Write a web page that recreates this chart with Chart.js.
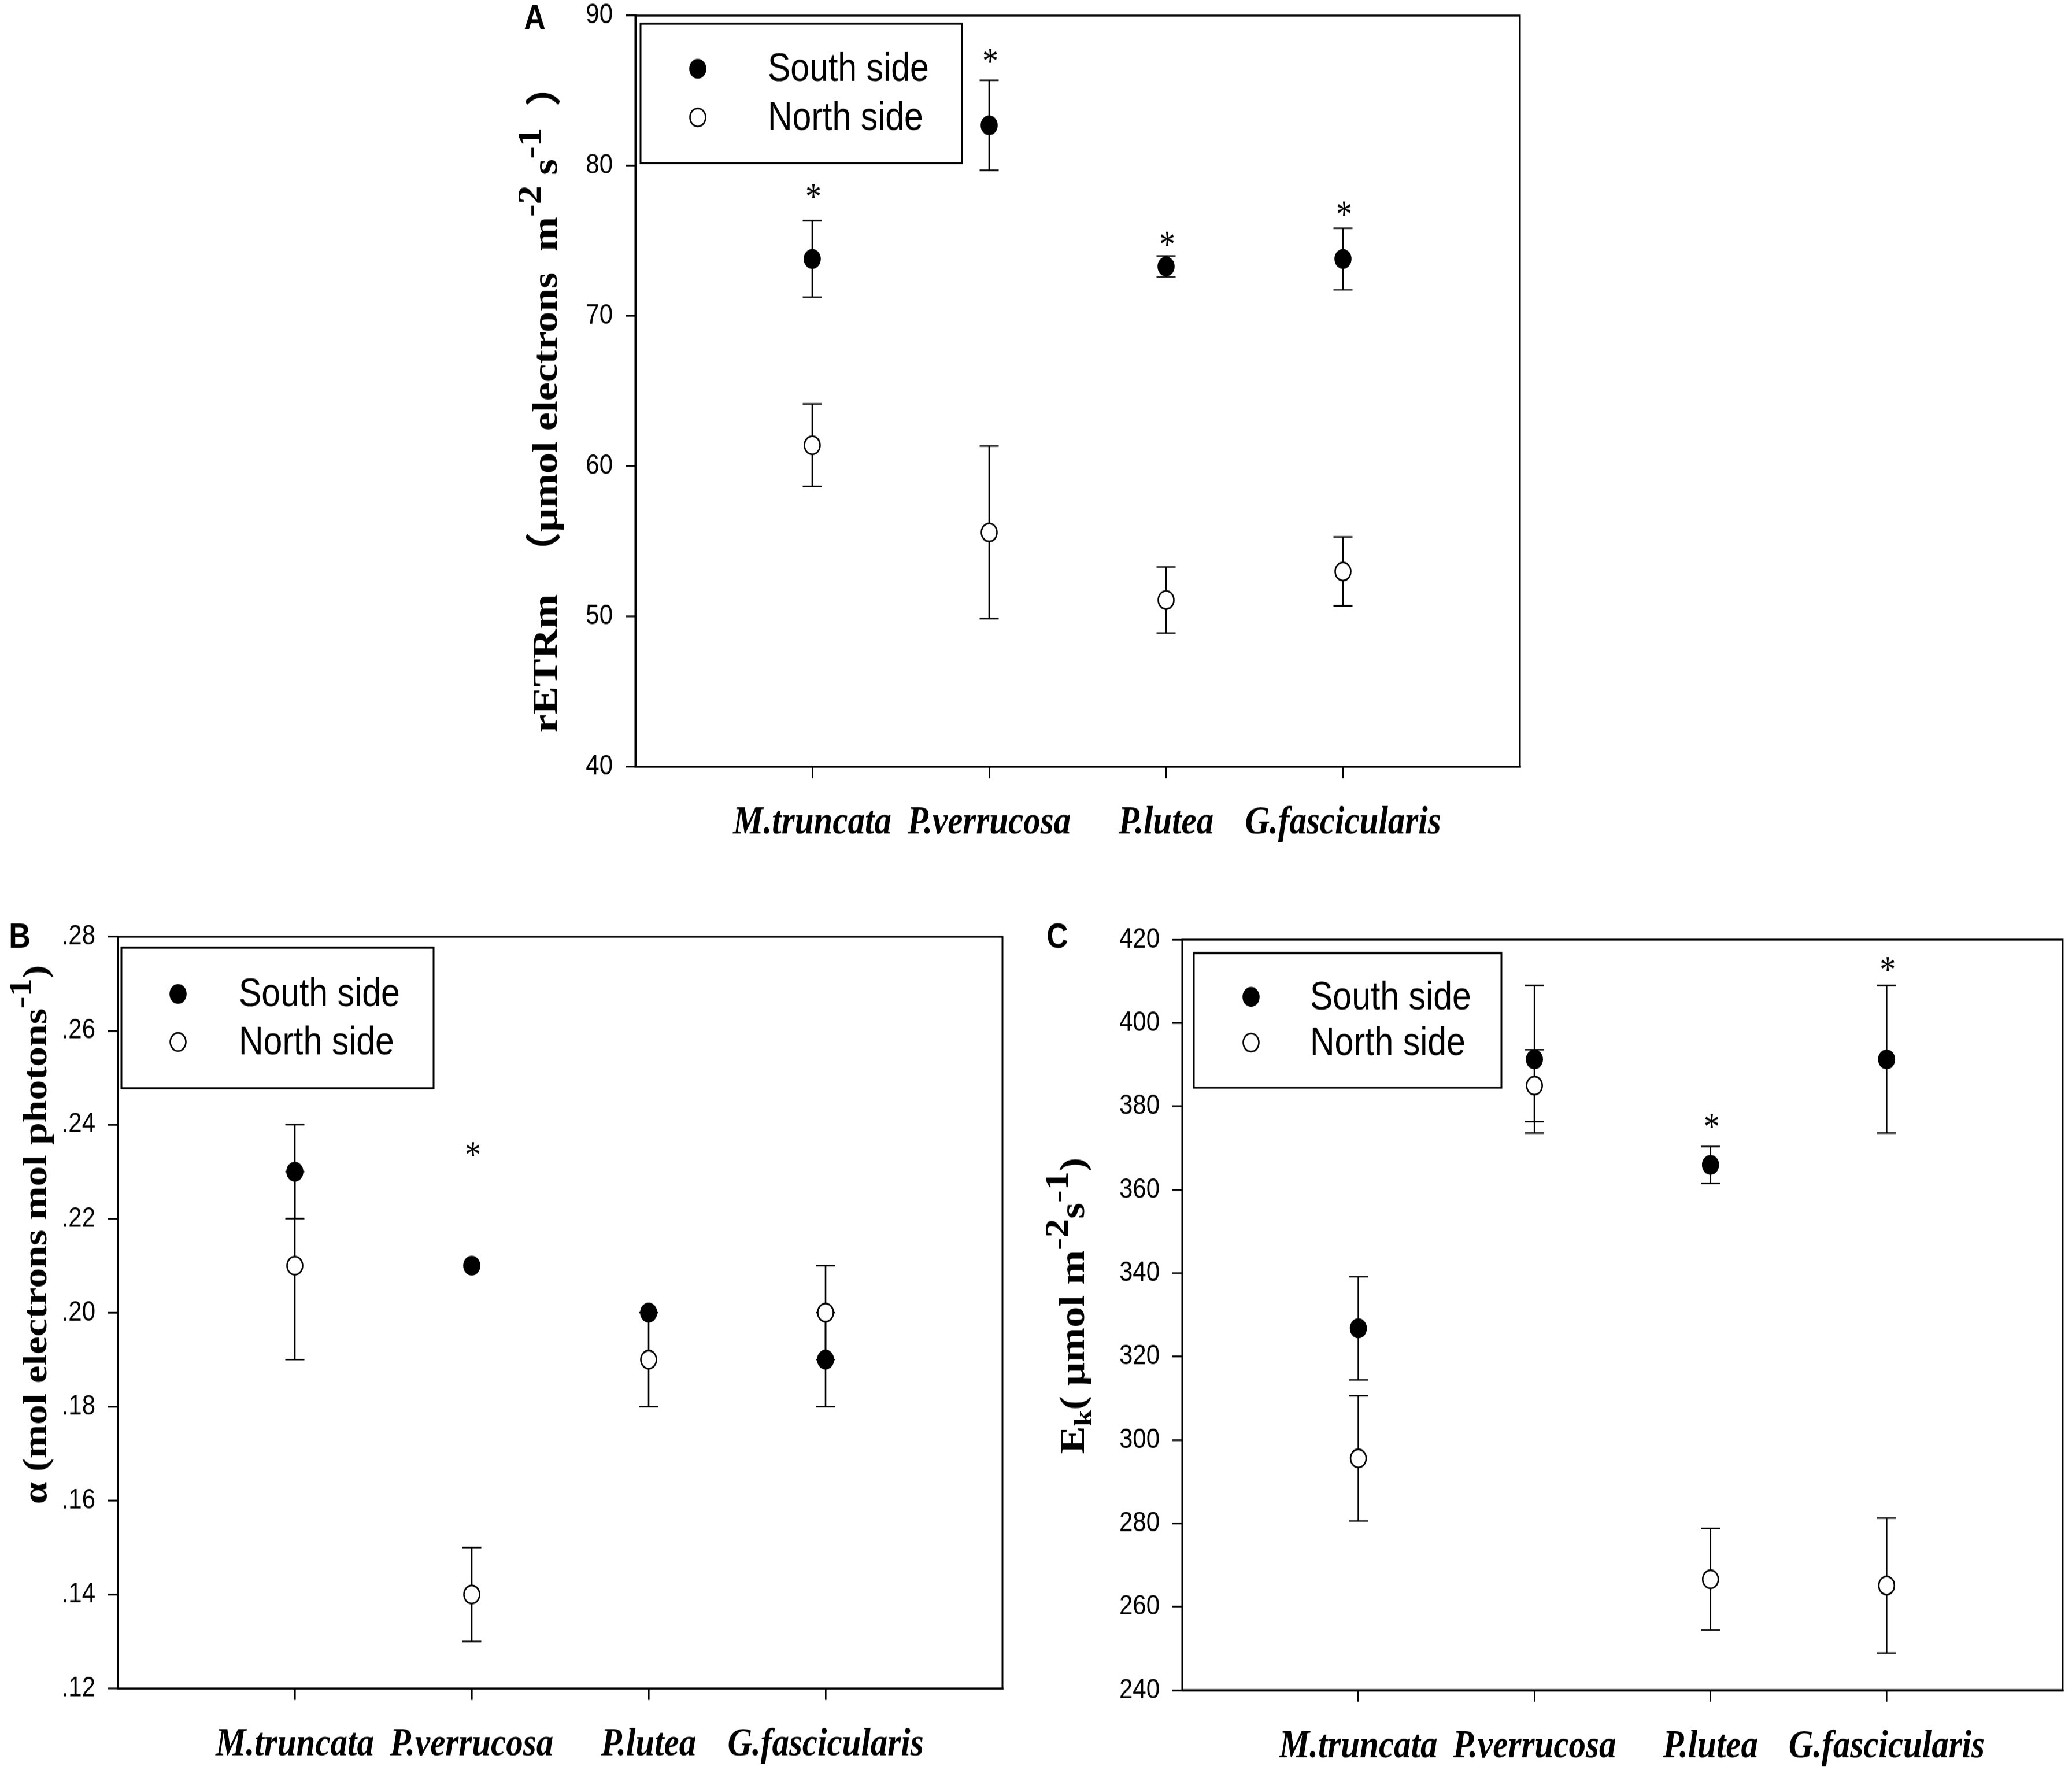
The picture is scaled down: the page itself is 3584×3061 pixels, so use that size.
<!DOCTYPE html>
<html><head><meta charset="utf-8">
<script src="https://cdn.jsdelivr.net/npm/chart.js@4.4.1/dist/chart.umd.min.js"></script>
<style>html,body{margin:0;padding:0;background:#fff;}body{width:3584px;height:3061px;position:relative;overflow:hidden;}</style>
</head><body>
<script>
// ---------- data ----------
const categories = ['M.truncata', 'P.verrucosa', 'P.lutea', 'G.fascicularis'];
const seriesNames = ['South side', 'North side'];

// Panel A: rETRm
const aSouth    = [73.8, 82.7, 73.3, 73.8];
const aSouthErr = [2.55, 3.0, 0.7, 2.05];
const aNorth    = [61.4, 55.6, 51.1, 53.0];
const aNorthErr = [2.75, 5.75, 2.2, 2.3];
const aStars    = [78.25, 87.3, 75.1, 77.1];
const aTicks    = [40, 50, 60, 70, 80, 90];

// Panel B: alpha
const bSouth    = [0.23, 0.21, 0.20, 0.19];
const bSouthErr = [0.01, 0, 0, 0.01];
const bNorth    = [0.21, 0.14, 0.19, 0.20];
const bNorthErr = [0.02, 0.01, 0.01, 0.01];
const bStars    = [null, 0.2346, null, null];
const bTicks    = [0.12, 0.14, 0.16, 0.18, 0.20, 0.22, 0.24, 0.26, 0.28];

// Panel C: Ek
const cSouth    = [326.8, 391.3, 366.0, 391.3];
const cSouthErr = [12.4, 17.7, 4.4, 17.7];
const cNorth    = [295.6, 385.0, 266.6, 265.1];
const cNorthErr = [15.0, 8.6, 12.2, 16.2];
const cStars    = [null, null, 376.3, 414];
const cTicks    = [240, 260, 280, 300, 320, 340, 360, 380, 400, 420];

// ---------- style / layout ----------
const S = 1.16; // the figure is slightly stretched vertically
const SANS = "'Liberation Sans', Arial, sans-serif";
const SERIF = "'Liberation Serif', 'Times New Roman', 'Noto Sans CJK SC', serif";

function drawRotated(ctx, segs, x, yc, size) {
  ctx.save();
  ctx.translate(x, yc);
  ctx.rotate(-Math.PI / 2);
  const fontFor = s => `bold ${Math.round(size * (s.sup ? 0.9 : s.sub ? 0.7 : 1))}px ${SERIF}`;
  let total = 0;
  segs.forEach(s => { ctx.font = fontFor(s); s._w = ctx.measureText(s.t).width; total += s._w; });
  let cx = -total / 2;
  ctx.textBaseline = 'alphabetic'; ctx.textAlign = 'left'; ctx.fillStyle = '#000';
  segs.forEach(s => {
    ctx.font = fontFor(s);
    const dy = s.sup ? -0.45 * size : s.sub ? 0.2 * size : 0;
    ctx.fillText(s.t, cx, dy);
    cx += s._w;
  });
  ctx.restore();
}

function makePanel(p) {
  const Hint = Math.round(p.box.height / S);
  const wrap = document.createElement('div');
  wrap.style.cssText = `position:absolute;left:${p.box.left}px;top:${p.box.top}px;width:${p.box.width}px;height:${Hint}px;transform:scaleY(${S});transform-origin:0 0;`;
  const cv = document.createElement('canvas');
  cv.width = p.box.width; cv.height = Hint;
  cv.style.width = p.box.width + 'px'; cv.style.height = Hint + 'px';
  wrap.appendChild(cv); document.body.appendChild(wrap);
  const ix = x => x - p.box.left;
  const iy = y => (y - p.box.top) / S;
  const yAxisW = ix(p.area.l);
  const padRight = p.box.width - ix(p.area.r);
  const padTop = iy(p.area.t);
  const xAxisH = Hint - iy(p.area.b);

  const deco = {
    id: 'deco' + p.key,
    beforeDatasetsDraw(chart) {
      const { ctx, chartArea: a, scales: { x, y } } = chart;
      ctx.save();
      ctx.strokeStyle = '#000';
      ctx.lineWidth = 3;
      ctx.strokeRect(a.left, a.top, a.right - a.left, a.bottom - a.top);
      chart.data.datasets.forEach(ds => {
        ds.data.forEach((pt, i) => {
          const e = ds.errors[i];
          if (!e) return;
          const px = x.getPixelForValue(pt.x);
          const y1 = y.getPixelForValue(pt.y + e), y2 = y.getPixelForValue(pt.y - e);
          ctx.lineWidth = 2.6;
          ctx.beginPath(); ctx.moveTo(px, y1); ctx.lineTo(px, y2); ctx.stroke();
          ctx.lineWidth = 2.6 / S;
          ctx.beginPath();
          ctx.moveTo(px - 16.5, y1); ctx.lineTo(px + 16.5, y1);
          ctx.moveTo(px - 16.5, y2); ctx.lineTo(px + 16.5, y2);
          ctx.stroke();
        });
      });
      ctx.restore();
    },
    afterDraw(chart) {
      const { ctx, scales: { x, y } } = chart;
      ctx.save();
      // significance stars
      ctx.fillStyle = '#000';
      ctx.font = `56px ${SERIF}`;
      ctx.textAlign = 'center'; ctx.textBaseline = 'alphabetic';
      p.stars.forEach((v, i) => {
        if (v == null) return;
        ctx.fillText('*', x.getPixelForValue(i + 1) + 2, y.getPixelForValue(v) + 0.47 * 56);
      });
      // legend
      const L = p.legend;
      ctx.lineWidth = 3;
      ctx.strokeStyle = '#000';
      ctx.strokeRect(ix(L.l), iy(L.t), L.r - L.l, iy(L.b) - iy(L.t));
      seriesNames.forEach((name, k) => {
        const my = iy(L.my[k]);
        ctx.beginPath();
        ctx.arc(ix(L.mx), my, 13.5, 0, Math.PI * 2);
        ctx.fillStyle = k === 0 ? '#000' : '#fff';
        ctx.fill();
        ctx.lineWidth = 2.6; ctx.stroke();
        ctx.fillStyle = '#000';
        ctx.font = `59px ${SANS}`;
        ctx.textAlign = 'left'; ctx.textBaseline = 'middle';
        ctx.fillText(name, ix(L.tx), my + 2);
      });
      // y-axis title
      drawRotated(ctx, p.title.segs, ix(p.title.x), iy(p.title.y), p.title.size);
      // panel letter
      ctx.fillStyle = '#000';
      ctx.font = `bold 52px ${SANS}`;
      ctx.textAlign = 'center'; ctx.textBaseline = 'middle';
      ctx.fillText(p.letter.t, ix(p.letter.x), iy(p.letter.y));
      ctx.restore();
    }
  };

  const pointCommon = { pointStyle: 'circle', pointRadius: 13.5, pointHoverRadius: 13.5, pointBorderColor: '#000', pointBorderWidth: 2.6, showLine: false };
  new Chart(cv, {
    type: 'scatter',
    data: {
      datasets: [
        Object.assign({ label: seriesNames[1], data: p.north.map((v, i) => ({ x: i + 1, y: v })), errors: p.northErr, pointBackgroundColor: '#fff', order: 0 }, pointCommon),
        Object.assign({ label: seriesNames[0], data: p.south.map((v, i) => ({ x: i + 1, y: v })), errors: p.southErr, pointBackgroundColor: '#000', order: 1 }, pointCommon)
      ]
    },
    options: {
      responsive: false, animation: false, devicePixelRatio: 1,
      layout: { padding: { top: padTop, right: padRight, left: 0, bottom: 0 } },
      plugins: { legend: { display: false }, tooltip: { enabled: false } },
      scales: {
        x: {
          type: 'linear', min: 0, max: categories.length + 1,
          afterBuildTicks: s => { s.ticks = categories.map((c, i) => ({ value: i + 1 })); },
          afterFit: s => { s.height = xAxisH; },
          ticks: {
            callback: v => categories[Math.round(v) - 1] || '',
            font: { family: SERIF, size: 59, style: 'italic', weight: 'bold' },
            color: '#000', padding: 32, maxRotation: 0, minRotation: 0, autoSkip: false
          },
          grid: { display: true, drawOnChartArea: false, drawTicks: true, tickLength: 17, color: '#000', lineWidth: 2.6 },
          border: { display: true, color: '#000', width: 3 }
        },
        y: {
          type: 'linear', min: p.ticks[0], max: p.ticks[p.ticks.length - 1],
          afterBuildTicks: s => { s.ticks = p.ticks.map(v => ({ value: v })); },
          afterFit: s => { s.width = yAxisW; },
          ticks: { callback: p.fmt, font: { family: SANS, size: 42 }, color: '#000', padding: 22 },
          grid: { display: true, drawOnChartArea: false, drawTicks: true, tickLength: 17, color: '#000', lineWidth: 2.6 },
          border: { display: true, color: '#000', width: 3 }
        }
      }
    },
    plugins: [deco]
  });
}

makePanel({
  key: 'A',
  box: { left: 700, top: -40, width: 2000, height: 1540 },
  area: { l: 1099, t: 27, r: 2629, b: 1326 },
  south: aSouth, southErr: aSouthErr, north: aNorth, northErr: aNorthErr, stars: aStars, ticks: aTicks,
  fmt: v => String(v),
  legend: { l: 1108, t: 41, r: 1664, b: 282, mx: 1207, my: [119, 203], tx: 1328 },
  title: { x: 963, y: 690, size: 62, segs: [
    { t: 'rETRm  \uFF08μmol electrons  m' }, { t: '-2', sup: true }, { t: ' s' }, { t: '-1', sup: true }, { t: '  \uFF09' }
  ] },
  letter: { t: 'A', x: 925, y: 34 }
});

makePanel({
  key: 'B',
  box: { left: 0, top: 1560, width: 1790, height: 1501 },
  area: { l: 204, t: 1620, r: 1734, b: 2920 },
  south: bSouth, southErr: bSouthErr, north: bNorth, northErr: bNorthErr, stars: bStars, ticks: bTicks,
  fmt: v => v.toFixed(2).replace(/^0/, ''),
  legend: { l: 210, t: 1639, r: 750, b: 1882, mx: 308, my: [1719, 1802], tx: 413 },
  title: { x: 80, y: 2135, size: 60, segs: [
    { t: 'α (mol electrons mol photons' }, { t: '-1', sup: true }, { t: ')' }
  ] },
  letter: { t: 'B', x: 34, y: 1622 }
});

makePanel({
  key: 'C',
  box: { left: 1790, top: 1560, width: 1794, height: 1501 },
  area: { l: 2045, t: 1625, r: 3574, b: 2923 },
  south: cSouth, southErr: cSouthErr, north: cNorth, northErr: cNorthErr, stars: cStars, ticks: cTicks,
  fmt: v => String(v),
  legend: { l: 2065, t: 1648, r: 2597, b: 1881, mx: 2164, my: [1724, 1803], tx: 2266 },
  title: { x: 1875, y: 2258, size: 62, segs: [
    { t: 'E' }, { t: 'k', sub: true }, { t: '( μmol m' }, { t: '-2', sup: true }, { t: 's' }, { t: '-1', sup: true }, { t: ')' }
  ] },
  letter: { t: 'C', x: 1829, y: 1622 }
});
</script>
</body></html>
